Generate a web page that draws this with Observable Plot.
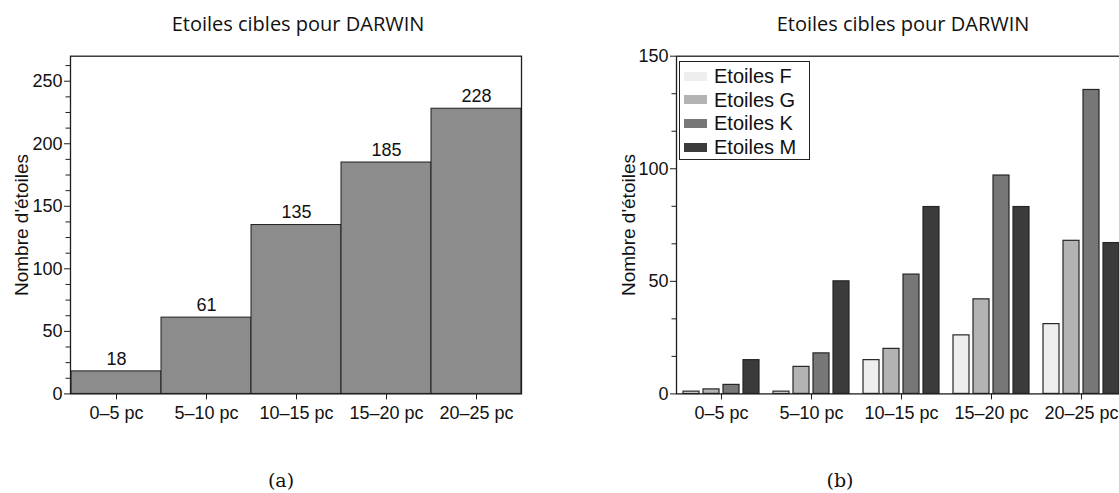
<!DOCTYPE html>
<html>
<head>
<meta charset="utf-8">
<script src="https://cdn.jsdelivr.net/npm/d3@7"></script>
<script src="https://cdn.jsdelivr.net/npm/@observablehq/plot@0.6"></script>
<style>
  html, body { margin: 0; padding: 0; background: #fff; overflow: hidden; }
  #root { position: relative; width: 1119px; height: 493px; overflow: hidden; background: #fff; }
  .abs { position: absolute; white-space: nowrap; }
  .title { font-family: "Open Sans", sans-serif; font-size: 20px; color: #111; transform: translate(-50%, -50%); line-height: 1; }
  .ylabel { font-family: "Liberation Sans", Arial, sans-serif; font-size: 19px; color: #111; line-height: 1; transform: translate(-50%, -50%) rotate(-90deg); }
  .caption { font-family: "DejaVu Serif", serif; font-size: 19px; color: #111; transform: translate(-50%, -50%); line-height: 1; }
  #legend { position: absolute; left: 679px; top: 61px; width: 129px; height: 97px; border: 1px solid #222; background: #fff; box-sizing: content-box; }
  .lrow { position: absolute; left: 4px; height: 20px; display: flex; align-items: center; font-family: "Liberation Sans", Arial, sans-serif; font-size: 20px; color: #111; line-height: 1; }
  .sw { width: 23px; height: 9px; margin-right: 7px; }
</style>
</head>
<body>
<div id="root"></div>
<script>
// ---- data ----
const distances = ["0–5 pc", "5–10 pc", "10–15 pc", "15–20 pc", "20–25 pc"];
const totals = [18, 61, 135, 185, 228];
const starTypes = ["Etoiles F", "Etoiles G", "Etoiles K", "Etoiles M"];
const countsF = [1, 1, 15, 26, 31];
const countsG = [2, 12, 20, 42, 68];
const countsK = [4, 18, 53, 97, 135];
const countsM = [15, 50, 83, 83, 67];
const typeColors = ["#eeeeee", "#b3b3b3", "#777777", "#3b3b3b"];
const yTicksA = [0, 50, 100, 150, 200, 250];
const yTicksB = [0, 50, 100, 150];
const titleText = "Etoiles cibles pour DARWIN";
const yLabelText = "Nombre d'étoiles";
const captions = ["(a)", "(b)"];

const root = document.getElementById("root");
function addDiv(cls, text, x, y) {
  const d = document.createElement("div");
  d.className = "abs " + cls;
  d.textContent = text;
  d.style.left = x + "px";
  d.style.top = y + "px";
  root.appendChild(d);
  return d;
}

const baseStyle = {fontFamily: "'Liberation Sans', Arial, sans-serif", fontSize: "18px", color: "#111", background: "transparent"};
const ink = "#1e1e1e";

// ---- panel (a) ----
const tableA = distances.map((d, i) => ({dist: d, n: totals[i]}));
const minorA = d3.range(0, 270, 12.5).filter(v => v % 50 !== 0);
const plotA = Plot.plot({
  width: 560, height: 440,
  marginLeft: 70, marginRight: 39, marginTop: 55.7, marginBottom: 46.6,
  style: baseStyle,
  x: {domain: distances, padding: 0},
  y: {domain: [0, 270]},
  marks: [
    Plot.barY(tableA, {x: "dist", y: "n", fill: "#8c8c8c", stroke: ink, strokeWidth: 1}),
    Plot.text(tableA, {x: "dist", y: "n", text: d => String(d.n), dy: -12.5, fill: "#111"}),
    Plot.frame({stroke: ink, strokeWidth: 1.3}),
    Plot.axisY({ticks: yTicksA, tickSize: 6, tickPadding: 2, label: null, stroke: ink}),
    Plot.axisY({ticks: minorA, tickSize: 4.5, tickFormat: () => "", label: null, stroke: ink}),
    Plot.axisX({tickSize: 6, tickPadding: 6, label: null, stroke: ink})
  ]
});
plotA.style.position = "absolute";
plotA.style.left = "0px";
plotA.style.top = "0px";
root.appendChild(plotA);

// ---- panel (b) ----
const series = [countsF, countsG, countsK, countsM];
const tableB = distances.flatMap((d, i) => starTypes.map((t, j) => ({dist: d, type: t, n: series[j][i]})));
const minorB = d3.range(0, 150.01, 50 / 3).filter(v => Math.abs(v % 50) > 1e-6 && Math.abs(v % 50 - 50) > 1e-6);
const plotB = Plot.plot({
  width: 600, height: 440,
  marginLeft: 115, marginRight: 33.5, marginTop: 55.7, marginBottom: 46.6,
  style: baseStyle,
  fx: {domain: distances, padding: 0, label: null},
  x: {domain: starTypes, paddingInner: 0.196, paddingOuter: 0.31, axis: null},
  y: {domain: [0, 150]},
  color: {domain: starTypes, range: typeColors},
  marks: [
    Plot.barY(tableB, {fx: "dist", x: "type", y: "n", fill: "type", stroke: "#262626", strokeWidth: 1.2}),
    Plot.frame({stroke: ink, strokeWidth: 1.3, facet: "super"}),
    Plot.axisY({ticks: yTicksB, tickSize: 6, tickPadding: 2, label: null, stroke: ink}),
    Plot.axisY({ticks: minorB, tickSize: 4.5, tickFormat: () => "", label: null, stroke: ink}),
    Plot.axisFx({anchor: "bottom", tickSize: 6, tickPadding: 6, label: null, stroke: ink})
  ]
});
plotB.style.position = "absolute";
plotB.style.left = "560px";
plotB.style.top = "0px";
root.appendChild(plotB);

// ---- titles, labels, captions ----
addDiv("title", titleText, 298, 24);
addDiv("title", titleText, 903, 24);
addDiv("ylabel", yLabelText, 20.5, 224.5);
addDiv("ylabel", yLabelText, 628, 224.5);
addDiv("caption", captions[0], 281, 480);
addDiv("caption", captions[1], 840, 480);

// ---- legend ----
const legend = document.createElement("div");
legend.id = "legend";
starTypes.forEach((t, j) => {
  const row = document.createElement("div");
  row.className = "lrow";
  row.style.top = (4 + j * 23.7) + "px";
  const sw = document.createElement("span");
  sw.className = "sw";
  sw.style.background = typeColors[j];
  const tx = document.createElement("span");
  tx.textContent = t;
  row.appendChild(sw);
  row.appendChild(tx);
  legend.appendChild(row);
});
root.appendChild(legend);
</script>
</body>
</html>
